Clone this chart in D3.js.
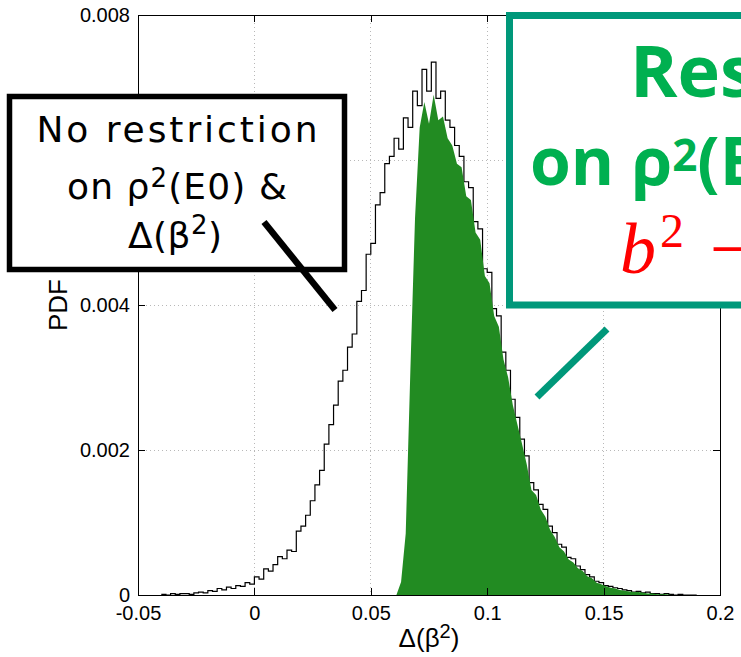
<!DOCTYPE html>
<html><head><meta charset="utf-8">
<script src="https://cdn.jsdelivr.net/npm/d3@7"></script>
<style>body{margin:0;background:#fff} svg{display:block}</style>
</head><body>
<svg id="chart" width="741" height="657"></svg>
<script>
// ---- data (PDF values in units of 1e-3) ----
const binStart = -0.04;
const binWidth = 0.002;
const pdfAll = [0.01,0.00,0.02,0.01,0.02,0.02,0.01,0.03,0.04,0.03,
 0.06,0.05,0.09,0.07,0.11,0.09,0.13,0.12,0.17,0.15,
 0.25,0.22,0.36,0.33,0.42,0.53,0.50,0.62,0.60,0.88,
 0.95,1.10,1.30,1.52,1.72,2.08,2.35,2.62,2.95,3.10,
 3.42,3.60,4.05,4.20,4.70,4.85,5.38,5.55,5.95,6.05,
 6.30,6.15,6.58,6.45,6.95,6.75,7.25,6.95,7.35,6.85,
 6.95,6.55,6.45,6.20,6.05,5.70,5.62,5.15,5.05,4.50,
 4.45,3.95,3.85,3.35,3.10,2.70,2.45,2.15,1.92,1.55,
 1.45,1.25,1.18,0.95,0.86,0.70,0.66,0.52,0.50,0.40,
 0.35,0.28,0.25,0.19,0.17,0.13,0.12,0.10,0.09,0.07,
 0.06,0.04,0.05,0.03,0.04,0.02,0.02,0.01,0.02,0.01,
 0.00,0.01,0.00,0.00,0.00];
const restrictedStart = 0.061;
const pdfRestricted = [0.00,0.18,0.85,3.10,5.20,6.45,6.80,6.50,6.90,6.55,
 6.60,6.30,6.20,5.95,5.90,5.50,5.45,5.00,4.90,4.40,
 4.30,3.85,3.70,3.25,3.00,2.62,2.35,2.08,1.80,1.45,
 1.38,1.18,1.08,0.90,0.80,0.66,0.60,0.49,0.45,0.37,
 0.33,0.26,0.23,0.17,0.15,0.12,0.10,0.09,0.07,0.06,
 0.05,0.04,0.04,0.03,0.02,0.02,0.01,0.01,0.01,0.00];
const unitScale = 1e-3;
const xTicks = [-0.05, 0, 0.05, 0.1, 0.15, 0.2];
const xTickLabels = ["-0.05", "0", "0.05", "0.1", "0.15", "0.2"];
const yTicks = [0, 0.002, 0.004, 0.006, 0.008];
const yTickLabels = ["0", "0.002", "0.004", "0.006", "0.008"];
const boxNoRestriction = ["No restriction", "on ρ|2|(E0) &", "Δ(β|2|)"];
const boxRestriction = ["Restriction", "on ρ|2|(E0) &"];

// ---- layout ----
const svg = d3.select("#chart");
const L = 138, R = 720, T = 15, B = 595;
const x = d3.scaleLinear().domain([-0.05, 0.2]).range([L, R]);
const y = d3.scaleLinear().domain([0, 0.008]).range([B, T]);
const tickFont = "'Liberation Sans', Arial, sans-serif";

// grid
const g = svg.append("g");
g.selectAll("line.gx").data(xTicks.slice(1, -1)).join("line")
  .attr("x1", d => x(d)).attr("x2", d => x(d)).attr("y1", T).attr("y2", B)
  .attr("stroke", "#b8b8b8").attr("stroke-dasharray", "1,3").attr("shape-rendering", "crispEdges");
g.selectAll("line.gy").data(yTicks.slice(1, -1)).join("line")
  .attr("y1", d => y(d)).attr("y2", d => y(d)).attr("x1", L).attr("x2", R)
  .attr("stroke", "#b8b8b8").attr("stroke-dasharray", "1,3").attr("shape-rendering", "crispEdges");

// unrestricted histogram (step line)
const stepPts = pdfAll.map((v, i) => [binStart + i * binWidth, v * unitScale]);
stepPts.push([binStart + pdfAll.length * binWidth, pdfAll[pdfAll.length - 1] * unitScale]);
svg.append("path").datum(stepPts)
  .attr("d", d3.line().x(d => x(d[0])).y(d => y(d[1])).curve(d3.curveStepAfter))
  .attr("fill", "none").attr("stroke", "#000").attr("stroke-width", 1.2);

// restricted histogram (filled)
const areaPts = pdfRestricted.map((v, i) => [restrictedStart + i * binWidth, v * unitScale]);
svg.append("path").datum(areaPts)
  .attr("d", d3.area().x(d => x(d[0])).y0(y(0)).y1(d => y(d[1])))
  .attr("fill", "#228B22");

// axes
const xb = d3.axisBottom(x).tickValues(xTicks).tickFormat((d, i) => xTickLabels[i]).tickSize(-7).tickPadding(11);
const yl = d3.axisLeft(y).tickValues(yTicks).tickFormat((d, i) => yTickLabels[i]).tickSize(-7).tickPadding(8);
const xt = d3.axisTop(x).tickValues(xTicks).tickFormat("").tickSize(-7);
const yr = d3.axisRight(y).tickValues(yTicks).tickFormat("").tickSize(-7);
[[xb, `translate(0,${B})`], [yl, `translate(${L},0)`], [xt, `translate(0,${T})`], [yr, `translate(${R},0)`]]
  .forEach(([ax, tr]) => {
    const a = svg.append("g").attr("transform", tr).call(ax);
    a.select(".domain").remove();
    a.selectAll("line").attr("stroke", "#000").attr("shape-rendering", "crispEdges");
    a.selectAll("text").attr("font-family", tickFont).attr("font-size", 20).attr("fill", "#000");
  });
svg.append("rect").attr("x", L).attr("y", T).attr("width", R - L).attr("height", B - T)
  .attr("fill", "none").attr("stroke", "#000").attr("stroke-width", 1).attr("shape-rendering", "crispEdges");

// axis labels
const xl = svg.append("text").attr("x", (L + R) / 2).attr("y", 647).attr("text-anchor", "middle")
  .attr("font-family", tickFont).attr("font-size", 26);
xl.append("tspan").text("Δ(β");
xl.append("tspan").attr("font-size", 20).attr("dy", -9).text("2");
xl.append("tspan").attr("dy", 9).text(")");
svg.append("text").attr("transform", `translate(67,${(T + B) / 2}) rotate(-90)`).attr("text-anchor", "middle")
  .attr("font-family", tickFont).attr("font-size", 26).text("PDF");

// helper: text with "|2|" superscripts
function richText(parent, str, xPos, yPos, size, supSize, shift, anchor, len) {
  const t = parent.append("text").attr("x", xPos).attr("y", yPos).attr("font-size", size)
    .attr("text-anchor", anchor);
  const parts = str.split("|");
  parts.forEach((p, i) => {
    if (!p) return;
    const sp = t.append("tspan").text(p);
    if (i % 2 === 1) sp.attr("font-size", supSize).attr("dy", -shift);
    else if (i > 0) sp.attr("dy", shift);
  });
  if (len) t.attr("textLength", len).attr("lengthAdjust", "spacing");
  return t;
}

// black annotation box
const bb = svg.append("g").attr("font-family", "'Comic Sans MS','DejaVu Sans',sans-serif").attr("fill", "#000");
bb.append("rect").attr("x", 9.5).attr("y", 96.5).attr("width", 335).attr("height", 173)
  .attr("fill", "#fff").attr("stroke", "#000").attr("stroke-width", 5.5);
richText(bb, boxNoRestriction[0], 177, 142, 36, 26, 12, "middle", 281);
richText(bb, boxNoRestriction[1], 177, 199, 36, 26, 12, "middle", 220);
richText(bb, boxNoRestriction[2], 175, 248, 36, 26, 14, "middle", 94);
svg.append("line").attr("x1", 264).attr("y1", 222).attr("x2", 335).attr("y2", 310)
  .attr("stroke", "#000").attr("stroke-width", 6.5);

// green annotation box
const teal = "#00987A";
const gb = svg.append("g").attr("font-family", "'Comic Sans MS','Open Sans',sans-serif");
gb.append("rect").attr("x", 509.5).attr("y", 15.5).attr("width", 400).attr("height", 289.5)
  .attr("fill", "#fff").attr("stroke", teal).attr("stroke-width", 7);
richText(gb, boxRestriction[0], 630, 97, 72, 40, 0, "start").attr("fill", "#00B050").attr("font-weight", 700);
richText(gb, boxRestriction[1], 530, 185, 66, 44, 14, "start").attr("fill", "#00B050").attr("font-weight", 700);
const eq = gb.append("text").attr("x", 620).attr("y", 273).attr("fill", "#FF0000")
  .attr("font-family", "'Liberation Serif','DejaVu Serif',serif").attr("font-size", 72);
eq.append("tspan").attr("font-style", "italic").text("b");
eq.append("tspan").attr("font-size", 48).attr("dy", -26).attr("dx", 4).text("2");
eq.append("tspan").attr("dy", 26).attr("dx", 26).text("− a");
svg.append("line").attr("x1", 537).attr("y1", 397).attr("x2", 607).attr("y2", 329)
  .attr("stroke", teal).attr("stroke-width", 7);
</script>
</body></html>
